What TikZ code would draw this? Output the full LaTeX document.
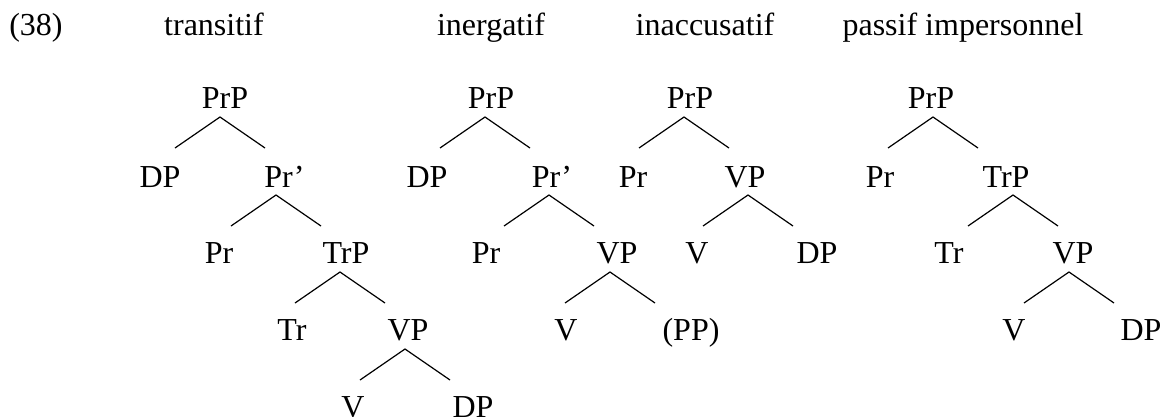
\documentclass[tikz,border=0pt]{standalone}
\usepackage{fontspec}
\setmainfont{Liberation Serif}
\usetikzlibrary{calc}
\newcommand\treefork[3]{%
  \coordinate (#1-a) at (#2,#3);
  \coordinate (#1-l) at ($(#1-a)+(-45,31)$);
  \coordinate (#1-r) at ($(#1-a)+(45,31)$);
  \draw[branch] (#1-l) -- (#1-a) -- (#1-r);}
\begin{document}
\begin{tikzpicture}[x=1pt,y=-1pt,
  lab/.style={anchor=base,inner sep=0pt,font=\fontsize{32}{38}\selectfont},
  branch/.style={line width=1.2pt,black}]
\useasboundingbox[fill=white] (0,0) rectangle (1164,416);
% headers
\node[lab] (h0) at (36,35) {(38)};
\node[lab] (h1) at (214,35) {transitif};
\node[lab] (h2) at (491,35) {inergatif};
\node[lab] (h3) at (705,35) {inaccusatif};
\node[lab] (h4) at (963,35) {passif impersonnel};
% tree 1: transitif
\node[lab] (t1prp) at (225,108) {PrP};
\node[lab] (t1dp) at (160,187) {DP};
\node[lab] (t1prb) at (284.5,187) {Pr’};
\node[lab] (t1pr) at (219,263) {Pr};
\node[lab] (t1trp) at (346,263) {TrP};
\node[lab] (t1tr) at (292,340) {Tr};
\node[lab] (t1vp) at (408,340) {VP};
\node[lab] (t1v) at (353,417) {V};
\node[lab] (t1dpb) at (473,417) {DP};
\treefork{t1prp}{220}{117}
\treefork{t1prb}{276}{195}
\treefork{t1trp}{340}{272}
\treefork{t1vp}{405}{349}
% tree 2: inergatif
\node[lab] (t2prp) at (491,108) {PrP};
\node[lab] (t2dp) at (427,187) {DP};
\node[lab] (t2prb) at (552,187) {Pr’};
\node[lab] (t2pr) at (486,263) {Pr};
\node[lab] (t2vp) at (617,263) {VP};
\node[lab] (t2v) at (566,340) {V};
\node[lab] (t2pp) at (691,340) {(PP)};
\treefork{t2prp}{485}{117}
\treefork{t2prb}{549}{195}
\treefork{t2vp}{610}{272}
% tree 3: inaccusatif
\node[lab] (t3prp) at (690,108) {PrP};
\node[lab] (t3pr) at (633,187) {Pr};
\node[lab] (t3vp) at (745,187) {VP};
\node[lab] (t3v) at (697,263) {V};
\node[lab] (t3dp) at (817,263) {DP};
\treefork{t3prp}{684}{117}
\treefork{t3vp}{748}{195}
% tree 4: passif impersonnel
\node[lab] (t4prp) at (931,108) {PrP};
\node[lab] (t4pr) at (880,187) {Pr};
\node[lab] (t4trp) at (1006,187) {TrP};
\node[lab] (t4tr) at (949,263) {Tr};
\node[lab] (t4vp) at (1073,263) {VP};
\node[lab] (t4v) at (1014,340) {V};
\node[lab] (t4dp) at (1141,340) {DP};
\treefork{t4prp}{933}{117}
\treefork{t4trp}{1013}{195}
\treefork{t4vp}{1069}{272}
\end{tikzpicture}
\end{document}
